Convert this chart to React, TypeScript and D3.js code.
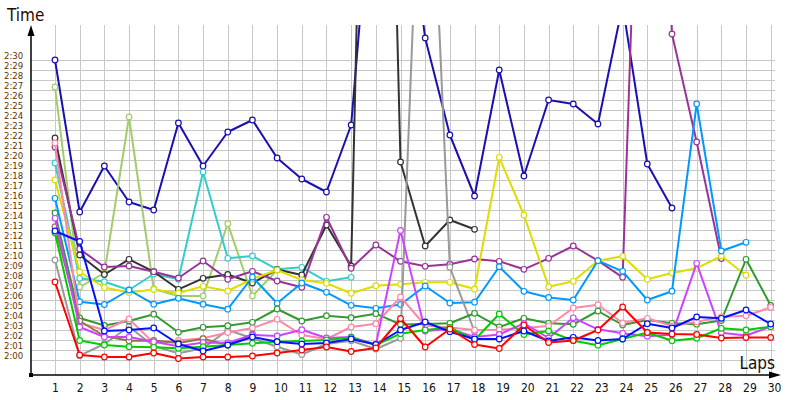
import React from "react";
import * as d3 from "d3";

const laps: number[] = [1,2,3,4,5,6,7,8,9,10,11,12,13,14,15,16,17,18,19,20,21,22,23,24,25,26,27,28,29,30];
const yTicks: number[] = [120,121,122,123,124,125,126,127,128,129,130,131,132,133,134,135,136,137,138,139,140,141,142,143,144,145,146,147,148,149,150];
const yTickLabels: string[] = yTicks.map(s => `${Math.floor(s / 60)}:${String(s % 60).padStart(2, "0")}`);

type V = number | null;
const navy: V[] = [150.0,134.8,139.4,135.8,135.0,143.7,139.4,142.8,144.0,140.2,138.1,136.8,143.5,173,171,152.2,142.5,136.4,149.0,138.4,146.0,145.6,143.6,155.5,139.6,135.2,null,null,null,null];
const red: V[] = [127.8,120.5,120.3,120.3,120.7,120.15,120.3,120.3,120.4,120.7,121.0,121.3,120.85,121.2,124.15,121.3,123.1,121.55,121.15,123.5,121.75,121.95,123.0,125.3,122.75,122.6,122.55,122.2,122.25,122.25];
const blue: V[] = [132.9,131.85,122.9,123.0,123.2,121.6,120.9,121.5,122.3,121.83,121.6,121.7,122.1,121.55,123.0,123.8,122.83,122.1,122.1,122.9,121.9,122.27,121.95,122.1,123.63,123.2,124.3,124.17,125.0,123.6];
const green: V[] = [132.7,121.95,121.5,121.33,121.27,121.17,121.33,121.5,121.67,121.83,121.9,122.0,122.25,121.5,122.63,123.0,123.25,122.0,124.6,122.55,122.9,121.93,121.48,122.1,122.75,121.93,122.17,123.17,123.0,123.33];
const darkGreen: V[] = [134.7,124.2,123.45,123.9,124.58,122.77,123.27,123.43,123.77,125.1,123.9,124.43,124.23,124.63,123.55,123.6,123.67,124.67,123.3,124.17,123.67,123.57,124.9,123.5,124.0,123.67,123.58,123.95,130.07,125.45];
const pink: V[] = [141.7,123.7,123.0,124.1,121.7,121.95,122.17,122.75,123.2,124.07,122.5,122.1,123.3,123.63,126.3,123.45,123.25,123.0,123.03,123.2,123.4,125.2,125.53,123.7,124.17,123.4,123.83,124.3,124.42,125.27];
const violet: V[] = [134.17,123.3,122.3,122.3,121.83,121.37,121.75,121.73,122.5,122.4,123.03,122.2,122.3,121.55,132.95,122.9,123.1,122.3,122.55,123.67,122.2,124.22,123.07,122.67,122.38,122.53,129.67,122.73,122.45,123.33];
const olive: V[] = [133.33,123.9,122.4,121.92,121.95,121.7,122.13,121.5,122.6,null,null,null,null,null,null,null,null,null,null,null,null,null,null,null,null,null,null,null,null,null];
const yellow: V[] = [138.0,128.8,127.25,126.75,127.05,126.7,127.37,126.9,128.1,129.0,128.0,127.67,126.67,127.43,127.57,127.77,127.77,127.1,140.27,134.5,127.33,127.87,129.93,130.37,128.07,128.7,129.17,130.4,128.48,null];
const lightBlue: V[] = [136.17,125.83,125.55,127.0,125.58,126.17,125.58,125.08,128.3,125.67,127.7,126.77,125.47,125.17,125.55,127.4,125.7,125.78,129.33,126.87,126.25,126.0,129.93,128.87,126.0,126.88,145.6,130.9,131.77,null];
const cyan: V[] = [139.7,128.17,127.83,127.0,128.6,128.07,138.8,130.17,130.4,129.07,129.27,127.87,128.27,null,null,null,null,null,null,null,null,null,null,null,null,null,null,null,null,null];
const purple: V[] = [141.3,131.1,129.3,129.4,128.83,128.2,129.9,128.07,128.87,127.9,127.27,134.27,129.17,131.5,129.87,129.37,129.58,130.1,129.87,129.07,130.17,131.4,129.93,128.27,200.8,152.6,141.8,130.15,null,null];
const darkGray: V[] = [142.2,130.5,128.55,130.07,128.83,127.07,128.17,128.55,127.7,129.05,128.5,133.5,129.4,238,139.8,131.4,134.0,133.07,null,null,null,null,null,null,null,null,null,null,null,null];
const lightGreen: V[] = [147.3,127.3,128.7,144.3,127.1,126.4,126.4,133.63,126.4,129.0,null,null,null,null,null,null,null,null,null,null,null,null,null,null,null,null,null,null,null,null];
const gray: V[] = [130.0,120.43,121.6,123.33,121.4,120.67,121.17,123.0,122.17,121.33,120.55,121.6,121.93,121.1,122.17,185,129.27,122.85,null,null,null,null,null,null,null,null,null,null,null,null];

const seriesList: { name: string; color: string; values: V[] }[] = [
  { name: "navy", color: "#1a10b0", values: navy },
  { name: "lightGreen", color: "#a3cc6a", values: lightGreen },
  { name: "cyan", color: "#33cccc", values: cyan },
  { name: "darkGray", color: "#333333", values: darkGray },
  { name: "purple", color: "#993399", values: purple },
  { name: "yellow", color: "#dddd00", values: yellow },
  { name: "lightBlue", color: "#0099ff", values: lightBlue },
  { name: "gray", color: "#999999", values: gray },
  { name: "darkGreen", color: "#339933", values: darkGreen },
  { name: "pink", color: "#ff88aa", values: pink },
  { name: "olive", color: "#8a7a3c", values: olive },
  { name: "violet", color: "#cc44ff", values: violet },
  { name: "green", color: "#00cc00", values: green },
  { name: "blue", color: "#0011ff", values: blue },
  { name: "red", color: "#ff0000", values: red },
];

const W = 800, H = 400;
const axisX = 31, axisY = 375, plotTop = 25, plotRight = 781;

export default function App() {
  const x = d3.scaleLinear().domain([1, 30]).range([55, 770.7]);
  const y = d3.scaleLinear().domain([120, 150]).range([360, 60]);
  const line = d3.line<V>()
    .defined(d => d != null)
    .x((_, i) => x(laps[i]))
    .y(d => y(d as number));

  const font = "Tahoma, 'DejaVu Sans Condensed', 'Liberation Sans', sans-serif";

  return (
    <svg width={W} height={H} style={{ position: "fixed", left: 0, top: 0, background: "#fff" }}>
      <defs>
        <clipPath id="plot">
          <rect x={axisX} y={plotTop} width={plotRight - axisX} height={axisY - plotTop} />
        </clipPath>
      </defs>
      {/* grid */}
      <g stroke="#c8c8c8" strokeWidth={1}>
        {yTicks.map(t => (
          <line key={"h" + t} x1={axisX} x2={775} y1={y(t) + 0.5} y2={y(t) + 0.5} />
        ))}
        {laps.map(l => (
          <line key={"v" + l} x1={Math.round(x(l)) + 0.5} x2={Math.round(x(l)) + 0.5} y1={plotTop} y2={axisY} />
        ))}
      </g>
      {/* y labels */}
      <g fontFamily={font} fontSize={9.5} fill="#5a3408">
        {yTicks.map((t, i) => (
          <text key={"yl" + t} x={4} y={y(t) - 1.5}>{yTickLabels[i]}</text>
        ))}
      </g>
      {/* x labels */}
      <g fontFamily={font} fontSize={12} fill="#111">
        {laps.map(l => (
          <text key={"xl" + l} x={x(l) - 3} y={392}>{l}</text>
        ))}
      </g>
      {/* series */}
      <g clipPath="url(#plot)">
        {seriesList.map(s => (
          <g key={s.name}>
            <path d={line(s.values) || ""} fill="none" stroke={s.color} strokeWidth={2} strokeLinejoin="round" />
            {s.values.map((v, i) => v == null ? null : (
              <circle key={i} cx={x(laps[i])} cy={y(v)} r={2.8} fill="#fff" stroke={s.color} strokeWidth={1.2} />
            ))}
          </g>
        ))}
      </g>
      {/* axes */}
      <line x1={axisX} x2={axisX} y1={axisY} y2={plotTop + 8} stroke="#000" strokeWidth={1.5} />
      <path d={`M${axisX},${plotTop} L${axisX - 3.5},${plotTop + 11} L${axisX + 3.5},${plotTop + 11} Z`} fill="#000" />
      <line x1={axisX} x2={plotRight - 8} y1={axisY} y2={axisY} stroke="#000" strokeWidth={1.5} />
      <path d={`M${plotRight},${axisY} L${plotRight - 12},${axisY - 3.5} L${plotRight - 12},${axisY + 3.5} Z`} fill="#000" />
      <rect x={axisX - 2} y={axisY - 2} width={4} height={4} fill="#000" />
      <text x={7} y={21} fontFamily={font} fontSize={17} fill="#2a0a00">Time</text>
      <text x={775} y={369} textAnchor="end" fontFamily={font} fontSize={17} fill="#111">Laps</text>
    </svg>
  );
}
